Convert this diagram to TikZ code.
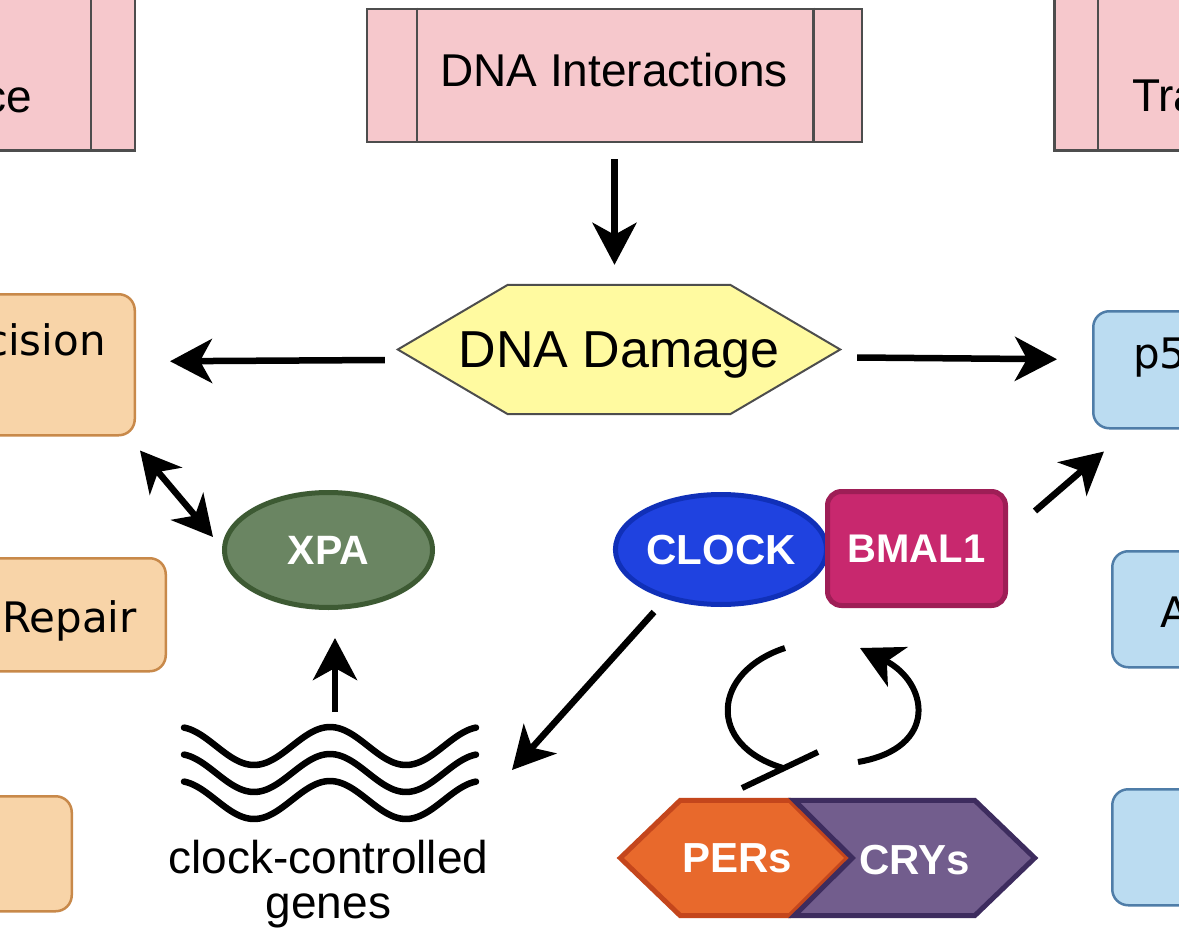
\documentclass[tikz,border=0pt]{standalone}
\usepackage{fontspec}
\setmainfont{Liberation Sans}
\newfontfamily\boxfont{DejaVu Sans}
\usetikzlibrary{arrows.meta,calc,shapes.geometric}
\pgfdeclarelayer{back}
\pgfdeclarelayer{bg}
\pgfsetlayers{back,bg,main}
\definecolor{pinkfill}{HTML}{F6C8CC}
\definecolor{grayline}{HTML}{4D4D4D}
\definecolor{yellowfill}{HTML}{FFFAA0}
\definecolor{orfill}{HTML}{F8D4A8}
\definecolor{orline}{HTML}{C8894A}
\definecolor{blfill}{HTML}{BBDCF1}
\definecolor{blline}{HTML}{4F7DA8}
\definecolor{xpafill}{HTML}{6A8562}
\definecolor{xpaline}{HTML}{3D5A33}
\definecolor{clockfill}{HTML}{1F42E0}
\definecolor{clockline}{HTML}{1030B8}
\definecolor{bmalfill}{HTML}{C8286E}
\definecolor{bmalline}{HTML}{9E1E56}
\definecolor{perfill}{HTML}{E8692C}
\definecolor{perline}{HTML}{C4461C}
\definecolor{cryfill}{HTML}{725D8D}
\definecolor{cryline}{HTML}{3D2C5E}
\begin{document}
\begin{tikzpicture}[x=1pt,y=-1pt,
  bigtip/.style={-{Stealth[length=42pt,width=44pt,inset=12pt]}},
  arr/.style={line width=6.5pt,bigtip},
  dblarr/.style={line width=6.5pt,{Stealth[length=40pt,width=42pt,inset=12pt]}-{Stealth[length=40pt,width=42pt,inset=12pt]}},
  loopline/.style={line width=6pt},
  procbox/.style={draw=grayline,line width=2.5pt,fill=pinkfill,inner sep=0pt},
  orangebox/.style={draw=orline,line width=2.5pt,fill=orfill,rounded corners=16pt,inner sep=0pt},
  bluebox/.style={draw=blline,line width=2.5pt,fill=blfill,rounded corners=16pt,inner sep=0pt},
  lbl/.style={inner sep=0pt,text=black},
  bigtxt/.style={font=\fontsize{46}{50}\selectfont},
  boxtxt/.style={font=\boxfont\fontsize{42}{46}\selectfont},
  whitetxt/.style={text=white,font=\bfseries\fontsize{42}{48}\selectfont,text depth=0pt,inner sep=0pt},
]
\useasboundingbox (0,0) rectangle (1179,931);
\begin{pgfonlayer}{back}
\fill[white] (0,0) rectangle (1179,931);
\end{pgfonlayer}

% top pink process boxes
\node[procbox,minimum width=500pt,minimum height=200pt,anchor=south east] (tlbox) at (136,152) {};
\draw[grayline,line width=2.5pt] ([xshift=-45pt]tlbox.north east) -- ([xshift=-45pt]tlbox.south east);
\node[lbl,bigtxt,anchor=base east] (tltxt) at (32,113) {ce};

\node[procbox,minimum width=495pt,minimum height=133pt] (inter) at (614.5,75.5) {};
\draw[grayline,line width=2.5pt] ([xshift=51pt]inter.north west) -- ([xshift=51pt]inter.south west);
\draw[grayline,line width=2.5pt] ([xshift=-50pt]inter.north east) -- ([xshift=-50pt]inter.south east);
\node[lbl,bigtxt,anchor=base] (intertxt) at (614,87) {DNA Interactions};

\node[procbox,minimum width=500pt,minimum height=200pt,anchor=south west] (trbox) at (1053,152) {};
\draw[grayline,line width=2.5pt] ([xshift=45pt]trbox.north west) -- ([xshift=45pt]trbox.south west);
\node[lbl,bigtxt,anchor=base west] (trtxt) at (1132,112) {Tra};

% left orange boxes
\node[orangebox,minimum width=300pt,minimum height=141pt,anchor=north east] (exc) at (136,293) {};
\node[lbl,boxtxt,anchor=base east] (exctxt) at (106,355) {cision};
\node[orangebox,minimum width=300pt,minimum height=113pt,anchor=north east] (rep) at (167,557) {};
\node[lbl,boxtxt,anchor=base east] (reptxt) at (137,632) {Repair};
\node[orangebox,minimum width=300pt,minimum height=115pt,anchor=north east] (ob3) at (73,795) {};

% right blue boxes
\node[bluebox,minimum width=300pt,minimum height=117pt,anchor=north west] (p53) at (1092,310) {};
\node[lbl,boxtxt,anchor=base west] (p53txt) at (1133,368) {p5};
\node[bluebox,minimum width=300pt,minimum height=116pt,anchor=north west] (abox) at (1111,550) {};
\node[lbl,boxtxt,anchor=base west] (atxt) at (1160,627) {A};
\node[bluebox,minimum width=300pt,minimum height=116pt,anchor=north west] (bb3) at (1111,788) {};

% DNA damage hexagon
\node[inner sep=0pt,minimum width=442pt,minimum height=129pt,text depth=0pt,font=\fontsize{52}{56}\selectfont] (dmg) at (619,349.5) {DNA Damage};
\begin{pgfonlayer}{bg}
\filldraw[fill=yellowfill,draw=grayline,line width=2pt] (dmg.west) -- ([xshift=110pt]dmg.north west) -- ([xshift=-110pt]dmg.north east) -- (dmg.east) -- ([xshift=-110pt]dmg.south east) -- ([xshift=110pt]dmg.south west) -- cycle;
\end{pgfonlayer}

% XPA, CLOCK, BMAL1
\node[ellipse,draw=xpaline,fill=xpafill,line width=5pt,minimum width=208pt,minimum height=115pt,whitetxt,font=\bfseries\fontsize{41}{46}\selectfont] (xpa) at (328.5,550) {XPA};
\node[ellipse,draw=clockline,fill=clockfill,line width=5pt,minimum width=203pt,minimum height=110pt,whitetxt] (clock) at (721,549.5) {CLOCK};
\node[rectangle,rounded corners=14pt,draw=bmalline,fill=bmalfill,line width=5pt,minimum width=178pt,minimum height=114pt,whitetxt,font=\bfseries\fontsize{40}{46}\selectfont] (bmal) at (916.5,548.5) {BMAL1};

% PERs / CRYs
\node[whitetxt,minimum width=227pt,minimum height=115pt] (pers) at (734,858) {\hspace*{6pt}PERs};
\node[whitetxt,minimum width=240pt,minimum height=115pt] (crys) at (914.5,858) {\raisebox{-4pt}{CRYs}};
\begin{pgfonlayer}{bg}
\filldraw[fill=perfill,draw=perline,line width=5pt,line join=miter] (pers.west) -- ([xshift=60pt]pers.north west) -- ([xshift=-58pt]pers.north east) -- (pers.east) -- ([xshift=-58pt]pers.south east) -- ([xshift=60pt]pers.south west) -- cycle;
\filldraw[fill=cryfill,draw=cryline,line width=5pt,line join=miter] (crys.north west) -- ([xshift=-60pt]crys.north east) -- (crys.east) -- ([xshift=-60pt]crys.south east) -- (crys.south west) -- ([xshift=58pt]crys.west) -- cycle;
\end{pgfonlayer}

% clock-controlled genes
\foreach \k in {0,27,54}{
  \draw[line width=6.5pt,line cap=round] plot[domain=184:476,samples=90,smooth] (\x,{746+\k-19*cos(((\x-330)/152)*360)});
}
\node[lbl,align=center,anchor=north,font=\fontsize{46}{45}\selectfont] (ccg) at (328.5,840) {clock-controlled\\genes};
\coordinate (genestop) at (335,712);
\coordinate (genesin) at (512,770);

% loop (PERs/CRYs feedback)
\coordinate (la) at (785,648);
\coordinate (lb) at (783,768);
\coordinate (ba) at (742,788);
\coordinate (bb) at (818,752);
\coordinate (ra) at (858,762);
\coordinate (rb) at (860,648);
\draw[loopline] (la) .. controls (712,672) and (706,745) .. (lb);
\draw[loopline] (ba) -- (bb);
\draw[loopline,bigtip] (ra) .. controls (940,748) and (928,682) .. (rb);

% arrows
\draw[arr] ($(inter.south)+(0,16)$) -- ($(inter.south |- dmg.north)+(0,-20)$);
\draw[arr] ($(dmg.west)+(-13,10.5)$) -- ($(exc.east)+(34,-3.5)$);
\draw[arr] ($(dmg.east)+(17,8)$) -- ($(p53.west)+(-35,-10.5)$);
\draw[dblarr] ($(exc.south east)+(4,14)$) -- ($(xpa.west)+(-9,-13)$);
\draw[arr] (genestop) -- ($(xpa.south -| genestop)+(0,28)$);
\draw[arr] ($(clock.center)+(-67,62.5)$) -- (genesin);
\draw[arr] ($(bmal.north east)+(27,22)$) -- ($(p53.south west)+(12,22)$);
\end{tikzpicture}
\end{document}
